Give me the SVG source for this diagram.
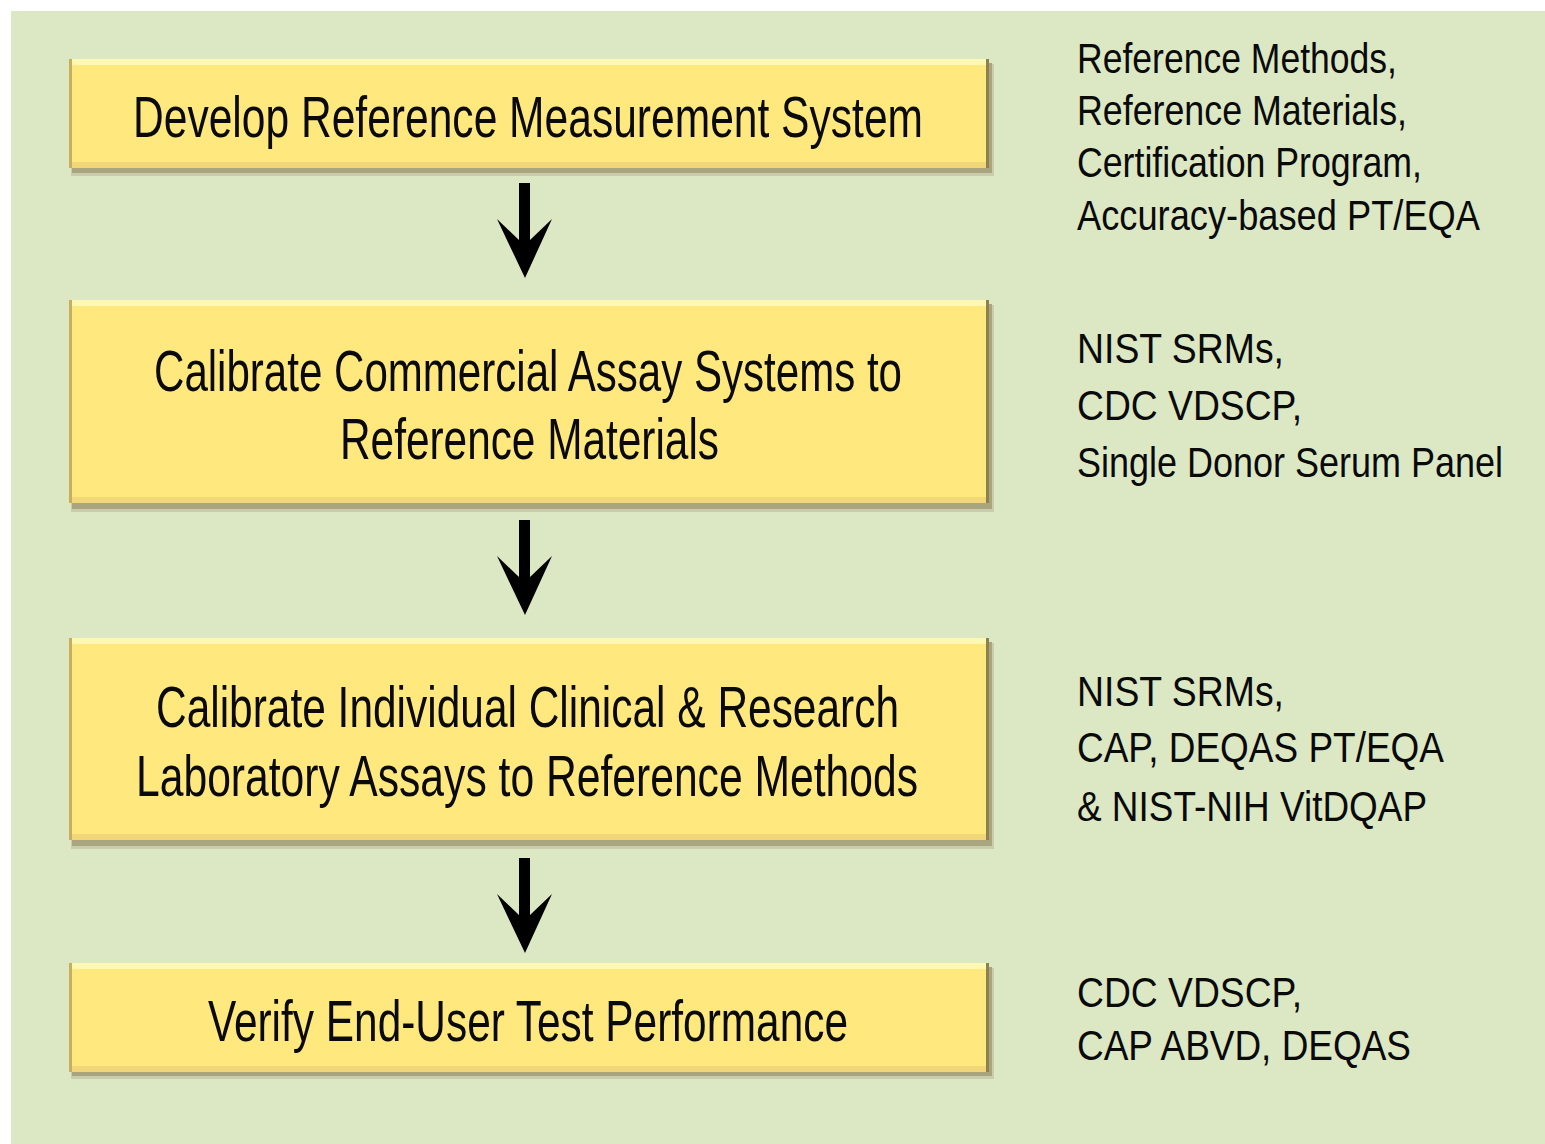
<svg xmlns="http://www.w3.org/2000/svg" xmlns:xlink="http://www.w3.org/1999/xlink" width="1545" height="1144" viewBox="0 0 1545 1144">
<style>
.bt{font-family:"Liberation Sans",Arial,sans-serif;font-size:58px;fill:#0a0a0a;}
.rt{font-family:"Liberation Sans",Arial,sans-serif;font-size:43px;fill:#0a0a0a;}
.shadow{fill:#A9A67F;}
.halo{fill:#C9CDAE;}
.fill{fill:#FFE97F;}
.top{fill:#FFF8B2;}
.bot{fill:#F2D67A;}
.ledge{fill:#C8AD5C;}
.redge{fill:#8F8050;}
.arrow{fill:#000;}
</style>
<defs>
<polygon id="arr" points="519,0 530,0 530,57 552,36 525,95 497,36 519,57"/>
</defs>
<rect x="0" y="0" width="1545" height="1144" fill="#FFFFFF"/>
<rect x="11" y="11" width="1534" height="1133" fill="#DCE8C4"/>

<g id="node1">
<rect class="halo" x="71" y="64" width="923" height="112"/>
<rect class="shadow" x="72" y="63" width="920" height="110"/>
<rect class="fill" x="69" y="59" width="920" height="109"/>
<rect class="top" x="69" y="59" width="920" height="6"/>
<rect class="bot" x="69" y="162" width="920" height="6"/>
<rect class="ledge" x="69" y="59" width="3" height="109"/>
<rect class="redge" x="986" y="59" width="3" height="109"/>
<text class="bt" x="133" y="137" textLength="790" lengthAdjust="spacingAndGlyphs">Develop Reference Measurement System</text>
</g>

<g id="node2">
<rect class="halo" x="71" y="305" width="923" height="207"/>
<rect class="shadow" x="72" y="304" width="920" height="205"/>
<rect class="fill" x="69" y="300" width="920" height="203"/>
<rect class="top" x="69" y="300" width="920" height="6"/>
<rect class="bot" x="69" y="497" width="920" height="6"/>
<rect class="ledge" x="69" y="300" width="3" height="203"/>
<rect class="redge" x="986" y="300" width="3" height="203"/>
<text class="bt" x="154" y="391" textLength="748" lengthAdjust="spacingAndGlyphs">Calibrate Commercial Assay Systems to</text>
<text class="bt" x="340" y="459" textLength="379" lengthAdjust="spacingAndGlyphs">Reference Materials</text>
</g>

<g id="node3">
<rect class="halo" x="71" y="643" width="923" height="206"/>
<rect class="shadow" x="72" y="642" width="920" height="204"/>
<rect class="fill" x="69" y="638" width="920" height="202"/>
<rect class="top" x="69" y="638" width="920" height="6"/>
<rect class="bot" x="69" y="834" width="920" height="6"/>
<rect class="ledge" x="69" y="638" width="3" height="202"/>
<rect class="redge" x="986" y="638" width="3" height="202"/>
<text class="bt" x="156" y="727" textLength="743" lengthAdjust="spacingAndGlyphs">Calibrate Individual Clinical &amp; Research</text>
<text class="bt" x="136" y="796" textLength="782" lengthAdjust="spacingAndGlyphs">Laboratory Assays to Reference Methods</text>
</g>

<g id="node4">
<rect class="halo" x="71" y="968" width="923" height="111"/>
<rect class="shadow" x="72" y="967" width="920" height="109"/>
<rect class="fill" x="69" y="963" width="920" height="109"/>
<rect class="top" x="69" y="963" width="920" height="6"/>
<rect class="bot" x="69" y="1066" width="920" height="6"/>
<rect class="ledge" x="69" y="963" width="3" height="109"/>
<rect class="redge" x="986" y="963" width="3" height="109"/>
<text class="bt" x="208" y="1041" textLength="640" lengthAdjust="spacingAndGlyphs">Verify End-User Test Performance</text>
</g>

<g id="connectors">
<use href="#arr" class="arrow" x="0" y="183"/>
<use href="#arr" class="arrow" x="0" y="520"/>
<use href="#arr" class="arrow" x="0" y="858"/>
</g>

<g id="note1">
<text class="rt" x="1077" y="73" textLength="320" lengthAdjust="spacingAndGlyphs">Reference Methods,</text>
<text class="rt" x="1077" y="125" textLength="330" lengthAdjust="spacingAndGlyphs">Reference Materials,</text>
<text class="rt" x="1077" y="177" textLength="345" lengthAdjust="spacingAndGlyphs">Certification Program,</text>
<text class="rt" x="1077" y="230" textLength="403" lengthAdjust="spacingAndGlyphs">Accuracy-based PT/EQA</text>
</g>
<g id="note2">
<text class="rt" x="1077" y="363" textLength="207" lengthAdjust="spacingAndGlyphs">NIST SRMs,</text>
<text class="rt" x="1077" y="420" textLength="225" lengthAdjust="spacingAndGlyphs">CDC VDSCP,</text>
<text class="rt" x="1077" y="477" textLength="426" lengthAdjust="spacingAndGlyphs">Single Donor Serum Panel</text>
</g>
<g id="note3">
<text class="rt" x="1077" y="706" textLength="207" lengthAdjust="spacingAndGlyphs">NIST SRMs,</text>
<text class="rt" x="1077" y="762" textLength="367" lengthAdjust="spacingAndGlyphs">CAP, DEQAS PT/EQA</text>
<text class="rt" x="1077" y="821" textLength="350" lengthAdjust="spacingAndGlyphs">&amp; NIST-NIH VitDQAP</text>
</g>
<g id="note4">
<text class="rt" x="1077" y="1007" textLength="225" lengthAdjust="spacingAndGlyphs">CDC VDSCP,</text>
<text class="rt" x="1077" y="1060" textLength="334" lengthAdjust="spacingAndGlyphs">CAP ABVD, DEQAS</text>
</g>
</svg>
